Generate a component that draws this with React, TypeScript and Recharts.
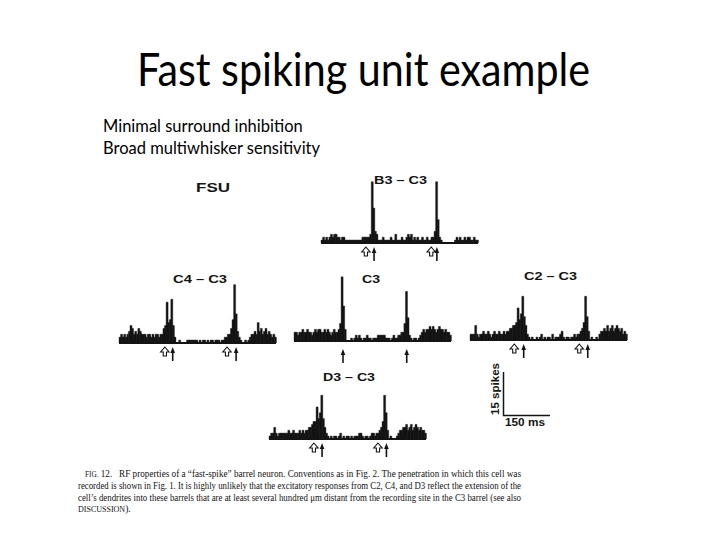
import React from 'react';
import { Bar, BarChart, ReferenceDot, XAxis, YAxis } from 'recharts';

// Spike counts per 5 ms bin, 0-500 ms (100 bins per histogram)
const b3c3Counts = [
  1, 2, 1, 2, 1, 2, 3, 2, 3, 3, 2, 2, 1, 2, 2, 1, 1, 1, 1, 1,
  1, 1, 1, 1, 1, 1, 2, 2, 2, 2, 2, 3, 21, 12, 4, 3, 1, 1, 1, 2,
  1, 1, 1, 1, 2, 1, 1, 3, 1, 1, 1, 2, 1, 1, 2, 3, 2, 3, 1, 2,
  1, 2, 1, 1, 2, 1, 1, 2, 1, 1, 2, 2, 4, 21, 8, 2, 1, 0, 0, 0,
  0, 0, 0, 0, 0, 1, 2, 1, 2, 1, 1, 2, 1, 2, 2, 1, 1, 2, 1, 1,
];
const c4c3Counts = [
  2, 3, 2, 3, 2, 3, 4, 6, 5, 3, 4, 3, 5, 4, 3, 3, 3, 2, 3, 3,
  2, 3, 2, 3, 3, 2, 3, 3, 5, 6, 14, 7, 8, 15, 6, 2, 0, 0, 1, 0,
  0, 0, 0, 1, 1, 1, 1, 1, 1, 1, 0, 1, 0, 1, 1, 0, 1, 0, 1, 1,
  0, 1, 1, 1, 0, 1, 1, 2, 2, 3, 3, 5, 8, 20, 10, 4, 2, 1, 0, 0,
  1, 0, 1, 2, 3, 3, 4, 3, 7, 4, 5, 3, 4, 5, 3, 4, 3, 2, 3, 2,
];
const c3Counts = [
  3, 3, 2, 3, 3, 4, 3, 3, 4, 3, 3, 2, 3, 4, 3, 4, 4, 3, 3, 4,
  3, 4, 3, 2, 3, 4, 3, 3, 4, 6, 22, 12, 4, 0, 0, 0, 1, 0, 1, 2,
  1, 2, 1, 0, 1, 1, 2, 1, 1, 0, 1, 1, 1, 2, 2, 2, 2, 2, 1, 1,
  1, 0, 1, 2, 1, 1, 2, 2, 3, 3, 6, 17, 8, 2, 1, 0, 1, 1, 0, 1,
  2, 3, 4, 3, 4, 4, 5, 4, 5, 4, 3, 4, 5, 4, 4, 3, 4, 3, 3, 2,
];
const c2c3Counts = [
  2, 2, 2, 5, 2, 1, 2, 2, 3, 2, 2, 3, 2, 1, 2, 3, 2, 2, 3, 2,
  2, 3, 2, 3, 3, 4, 4, 5, 5, 6, 11, 7, 9, 15, 8, 5, 2, 1, 0, 1,
  0, 0, 1, 0, 1, 2, 0, 1, 0, 1, 1, 0, 2, 0, 1, 1, 1, 2, 3, 1,
  0, 1, 1, 0, 1, 1, 2, 1, 2, 2, 3, 4, 6, 15, 8, 3, 0, 1, 0, 0,
  1, 0, 2, 3, 3, 4, 3, 5, 3, 4, 5, 3, 4, 5, 4, 3, 4, 2, 3, 2,
];
const d3c3Counts = [
  1, 2, 2, 4, 2, 1, 2, 2, 2, 2, 2, 2, 3, 2, 2, 3, 2, 2, 2, 3,
  2, 3, 2, 3, 3, 4, 4, 5, 6, 6, 11, 7, 9, 15, 7, 4, 2, 1, 0, 1,
  0, 1, 1, 0, 1, 2, 0, 1, 0, 1, 1, 0, 1, 0, 1, 1, 1, 2, 2, 1,
  0, 1, 1, 0, 1, 2, 2, 1, 2, 2, 3, 4, 6, 15, 9, 3, 0, 1, 0, 0,
  0, 1, 2, 3, 3, 4, 4, 5, 3, 4, 5, 3, 4, 5, 4, 3, 4, 3, 3, 2,
];

// stimulus times (ms): open arrow = surround whisker, solid arrow = C3
const b3c3Open = [143, 351];
const b3c3Solid = [169, 369];
const c4c3Open = [146, 344];
const c4c3Solid = [171, 373];
const c3Solid = [156, 359];
const c2c3Open = [141, 348];
const c2c3Solid = [171, 375];
const d3c3Open = [143, 347];
const d3c3Solid = [169, 374];

const BIN_MS = 5;
const MAX_SPIKES = 24;

const toRows = (counts: number[]) =>
  counts.map((v, i) => ({ bin: i, t: i * BIN_MS + BIN_MS / 2, v }));

const INK = '#141414';
const CHART_W = 161;
const CHART_H = 97;
const PLOT_TOP = 4;
const PLOT_H = 70;

const OpenArrow = ({ cx, cy, gap }: any) => {
  const y = cy + gap;
  return (
    <path
      d={`M${cx},${y} L${cx + 4.2},${y + 5} L${cx + 1.6},${y + 5} L${cx + 1.6},${y + 9} L${cx - 1.6},${y + 9} L${cx - 1.6},${y + 5} L${cx - 4.2},${y + 5} Z`}
      fill="#fff"
      stroke={INK}
      strokeWidth={1.1}
    />
  );
};

const SolidArrow = ({ cx, cy, gap }: any) => {
  const y = cy + gap;
  return (
    <g>
      <line x1={cx} y1={y + 4} x2={cx} y2={y + 14} stroke={INK} strokeWidth={1.6} />
      <path d={`M${cx},${y} L${cx + 2.3},${y + 6} L${cx - 2.3},${y + 6} Z`} fill={INK} />
    </g>
  );
};

const Psth = ({ counts, open, solid, gap }: any) => (
  <BarChart
    width={CHART_W}
    height={CHART_H}
    data={toRows(counts)}
    margin={{ top: PLOT_TOP, right: 2, bottom: CHART_H - PLOT_TOP - PLOT_H - 1, left: 2 }}
    barCategoryGap={0}
    barGap={0}
  >
    <XAxis
      xAxisId="bins"
      dataKey="bin"
      tick={false}
      tickLine={false}
      axisLine={{ stroke: INK, strokeWidth: 1.8 }}
      height={1}
    />
    <XAxis xAxisId="time" dataKey="t" type="number" domain={[0, 500]} hide />
    <YAxis domain={[0, MAX_SPIKES]} hide />
    <Bar
      xAxisId="bins"
      dataKey="v"
      fill={INK}
      stroke={INK}
      strokeWidth={0.4}
      isAnimationActive={false}
    />
    {open.map((t: number) => (
      <ReferenceDot
        key={`o${t}`}
        xAxisId="time"
        x={t}
        y={0}
        shape={(p: any) => <OpenArrow {...p} gap={gap} />}
      />
    ))}
    {solid.map((t: number) => (
      <ReferenceDot
        key={`s${t}`}
        xAxisId="time"
        x={t}
        y={0}
        shape={(p: any) => <SolidArrow {...p} gap={gap} />}
      />
    ))}
  </BarChart>
);

// where each histogram sits on the slide (plot left edge, baseline y)
const panels = [
  { name: 'B3 – C3', counts: b3c3Counts, open: b3c3Open, solid: b3c3Solid, left: 321, base: 243, lx: 374, ly: 183.5, lw: 53, gap: 4 },
  { name: 'C4 – C3', counts: c4c3Counts, open: c4c3Open, solid: c4c3Solid, left: 119, base: 343, lx: 173, ly: 283, lw: 54, gap: 4 },
  { name: 'C3', counts: c3Counts, open: [], solid: c3Solid, left: 294, base: 341, lx: 362, ly: 282.5, lw: 18, gap: 8 },
  { name: 'C2 – C3', counts: c2c3Counts, open: c2c3Open, solid: c2c3Solid, left: 470, base: 340, lx: 524, ly: 280, lw: 53, gap: 4 },
  { name: 'D3 – C3', counts: d3c3Counts, open: d3c3Open, solid: d3c3Solid, left: 269, base: 439, lx: 323, ly: 380.5, lw: 52, gap: 4 },
];

const figFont = 'Arial, "Liberation Sans", Helvetica, sans-serif';
const slideFont = 'Lato, "Open Sans", sans-serif';
const capFont = '"Liberation Serif", "Times New Roman", serif';

export default function App() {
  return (
    <div
      style={{
        position: 'absolute',
        left: 0,
        top: 0,
        width: 728,
        height: 546,
        background: '#fff',
        overflow: 'hidden',
      }}
    >
      <svg width={728} height={546} style={{ position: 'absolute', left: 0, top: 0 }}>
        <text x={137} y={86} fontFamily={slideFont} fontSize={46} fill="#000" textLength={453} lengthAdjust="spacingAndGlyphs">
          Fast spiking unit example
        </text>
        <text x={103} y={132} fontFamily={slideFont} fontSize={16.5} fill="#000">
          Minimal surround inhibition
        </text>
        <text x={103} y={154} fontFamily={slideFont} fontSize={16.5} fill="#000">
          Broad multiwhisker sensitivity
        </text>
        <text x={196} y={192} fontFamily={figFont} fontWeight="bold" fontSize={13} fill={INK} textLength={34} lengthAdjust="spacingAndGlyphs">
          FSU
        </text>
        {panels.map((p) => (
          <text key={p.name} x={p.lx} y={p.ly} fontFamily={figFont} fontWeight="bold" fontSize={11.5} fill={INK} textLength={p.lw} lengthAdjust="spacingAndGlyphs">
            {p.name}
          </text>
        ))}
        {/* scale bar: 15 spikes / 150 ms */}
        <polyline points="503.5,372 503.5,415.5 550,415.5" fill="none" stroke={INK} strokeWidth={1.5} />
        <text
          x={0}
          y={0}
          transform="translate(498.5,389) rotate(-90)"
          textAnchor="middle"
          fontFamily={figFont}
          fontWeight="bold"
          fontSize={10.5}
          fill={INK}
          textLength={52}
          lengthAdjust="spacingAndGlyphs"
        >
          15 spikes
        </text>
        <text x={505} y={426} fontFamily={figFont} fontWeight="bold" fontSize={10.5} fill={INK} textLength={40} lengthAdjust="spacingAndGlyphs">
          150 ms
        </text>
        <g fontFamily={capFont} fontSize={9.5} fill="#111">
          <text x={85} y={477} textLength={436} lengthAdjust="spacingAndGlyphs">
            <tspan fontSize={7.5}>FIG.</tspan> 12.{'\u00a0\u00a0\u00a0'}RF properties of a “fast-spike” barrel neuron. Conventions as in Fig. 2. The penetration in which this cell was
          </text>
          <text x={78} y={489} textLength={443} lengthAdjust="spacingAndGlyphs">
            recorded is shown in Fig. 1. It is highly unlikely that the excitatory responses from C2, C4, and D3 reflect the extension of the
          </text>
          <text x={78} y={501} textLength={443} lengthAdjust="spacingAndGlyphs">
            cell’s dendrites into these barrels that are at least several hundred μm distant from the recording site in the C3 barrel (see also
          </text>
          <text x={78} y={512}>
            <tspan fontSize={8}>DISCUSSION</tspan>).
          </text>
        </g>
      </svg>
      {panels.map((p) => (
        <div
          key={p.name}
          style={{
            position: 'absolute',
            left: p.left - 2,
            top: p.base - PLOT_TOP - PLOT_H,
            width: CHART_W,
            height: CHART_H,
          }}
        >
          <Psth counts={p.counts} open={p.open} solid={p.solid} gap={p.gap} />
        </div>
      ))}
    </div>
  );
}
